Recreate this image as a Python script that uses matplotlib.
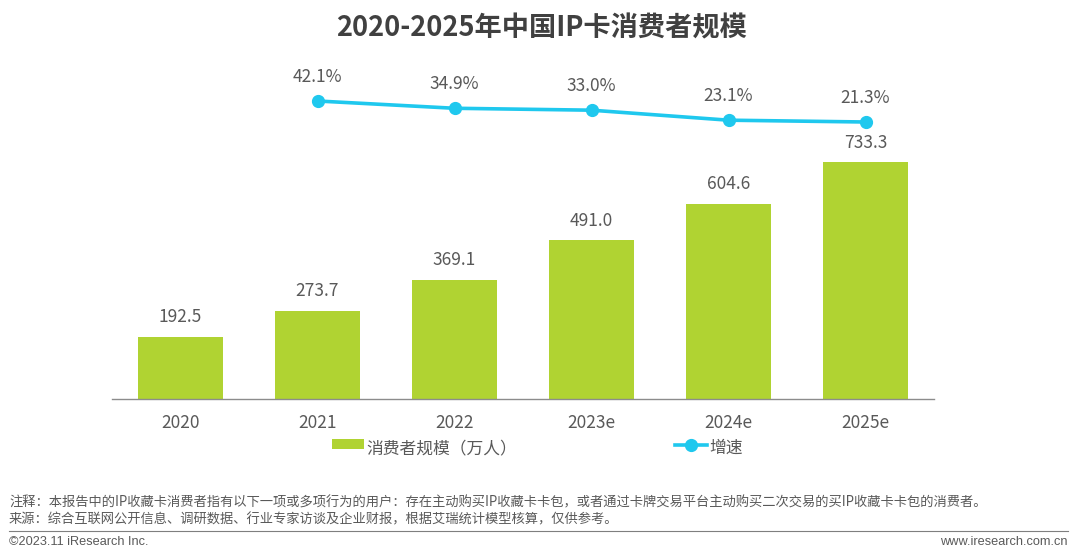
import matplotlib
matplotlib.use('Agg')
import matplotlib.pyplot as plt

plt.rcParams['font.family'] = ['Noto Sans CJK SC', 'DejaVu Sans']

years = ['2020', '2021', '2022', '2023e', '2024e', '2025e']
consumers = [192.5, 273.7, 369.1, 491.0, 604.6, 733.3]
growth = [None, 42.1, 34.9, 33.0, 23.1, 21.3]

title = '2020-2025年中国IP卡消费者规模'
bar_name = '消费者规模（万人）'
line_name = '增速'
note = '注释：本报告中的IP收藏卡消费者指有以下一项或多项行为的用户：存在主动购买IP收藏卡卡包，或者通过卡牌交易平台主动购买二次交易的买IP收藏卡卡包的消费者。'
source = '来源：综合互联网公开信息、调研数据、行业专家访谈及企业财报，根据艾瑞统计模型核算，仅供参考。'
copyright_text = '©2023.11 iResearch Inc.'
site = 'www.iresearch.com.cn'

W, H = 1080, 558
GREEN = '#B0D332'
BLUE = '#1FC8EE'
TEXT = '#595959'

fig = plt.figure(figsize=(W / 100, H / 100), dpi=100)
ax = fig.add_axes([112 / W, 1 - 399 / H, 822 / W, 339 / H])
x = list(range(len(years)))

bars = ax.bar(x, consumers, width=0.62, color=GREEN, label=bar_name)
ax.set_xlim(-0.5, 5.5)
ax.set_ylim(0, 1049)
ax.set_yticks([])
ax.set_xticks(x)
ax.set_xticklabels(years, fontsize=12.5, color=TEXT)
ax.tick_params(axis='x', length=0, pad=11)
for side in ['top', 'left', 'right']:
    ax.spines[side].set_visible(False)
ax.spines['bottom'].set_color('#8C8C8C')
ax.spines['bottom'].set_linewidth(1)
for xi, v in zip(x, consumers):
    ax.annotate(f'{v:.1f}', (xi, v), xytext=(0, 7.5), textcoords='offset points',
                ha='center', va='bottom', fontsize=12.5, color=TEXT)

ax2 = ax.twinx()
ax2.set_ylim(-253, 82.7)
ax2.axis('off')
line, = ax2.plot(x[1:], growth[1:], color=BLUE, lw=2.6, marker='o', ms=8.5, label=line_name)
for xi, v in zip(x[1:], growth[1:]):
    ax2.annotate(f'{v:.1f}%', (xi, v), xytext=(0, 11), textcoords='offset points',
                 ha='center', va='bottom', fontsize=12.5, color=TEXT)

leg = fig.legend(handles=[bars, line], loc='upper left', bbox_to_anchor=(332 / W, 1 - 437 / H),
                 ncol=2, frameon=False, fontsize=12.1, labelcolor=TEXT, borderpad=0,
                 borderaxespad=0, handlelength=1.9, handleheight=0.46, handletextpad=0.15,
                 columnspacing=9.4)
for t in leg.get_texts():
    t.set_y(-3)

fig.text(541.5 / W, 1 - 28 / H, title, ha='center', va='center', fontsize=19.6,
         fontweight='bold', color='#404040')
fig.text(9 / W, 1 - 502 / H, note, ha='left', va='center', fontsize=9.55, color=TEXT)
fig.text(9 / W, 1 - 519 / H, source, ha='left', va='center', fontsize=9.55, color=TEXT)
fig.add_artist(plt.Line2D([9 / W, 1068 / W], [1 - 531 / H, 1 - 531 / H], color='#7F7F7F', lw=0.8))
fig.text(9 / W, 1 - 542 / H, copyright_text, ha='left', va='center', fontsize=9.2,
         family='Liberation Sans', color=TEXT)
fig.text(1068 / W, 1 - 542 / H, site, ha='right', va='center', fontsize=9.2,
         family='Liberation Sans', color=TEXT)

fig.savefig('out.png', dpi=100)
